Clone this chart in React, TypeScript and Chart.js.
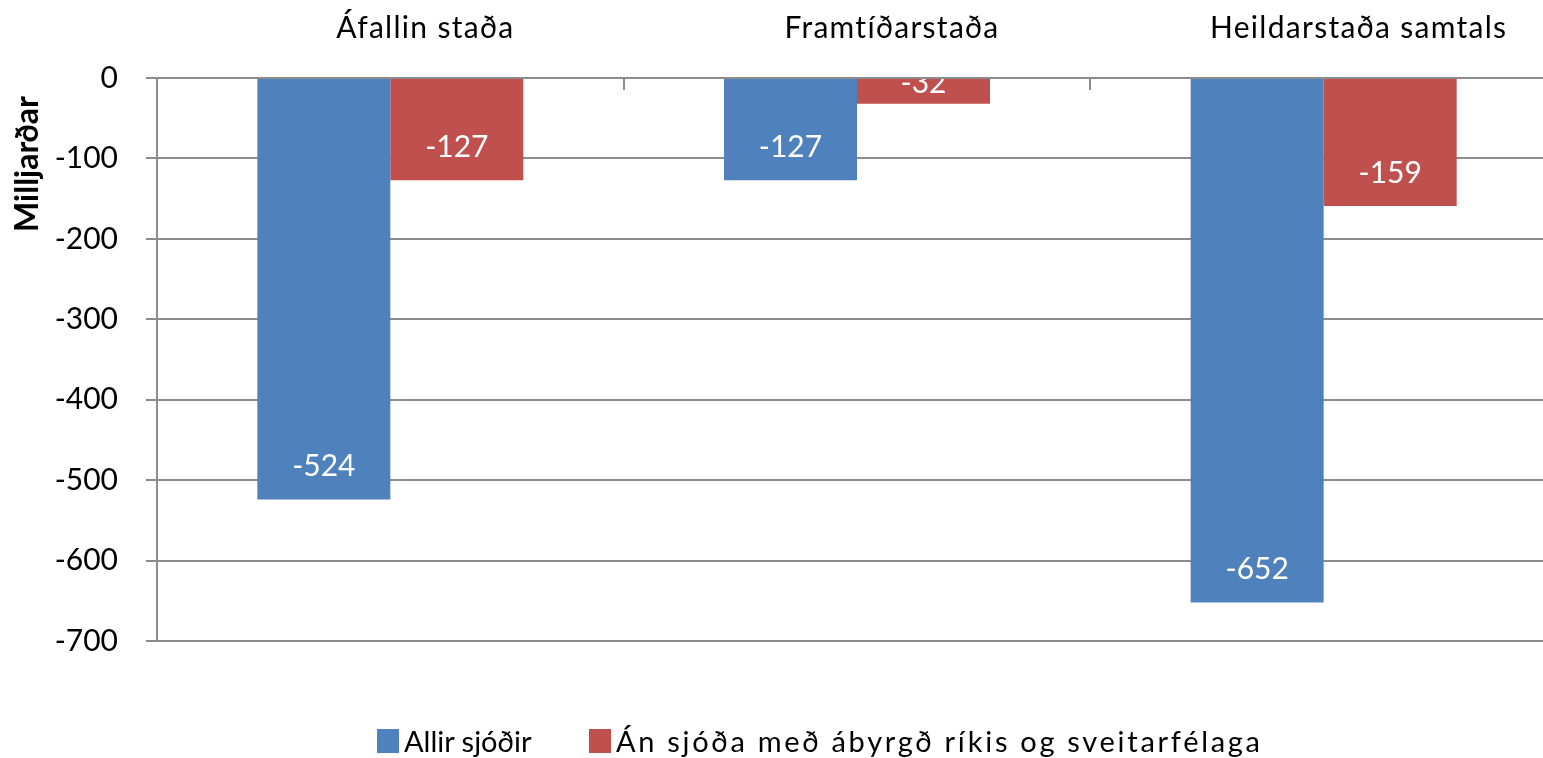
import React, { useEffect, useRef } from "react";
import { Chart, registerables } from "chart.js";

Chart.register(...registerables);

const categories = ["Áfallin staða", "Framtíðarstaða", "Heildarstaða samtals"];
const seriesNames = ["Allir sjóðir", "Án sjóða með ábyrgð ríkis og sveitarfélaga"];
const allirSjodir = [-524, -127, -652];
const anSjoda = [-127, -32, -159];
const seriesColors = ["#4F81BD", "#C0504D"];
const yTitle = "Milljarðar";
const yMin = -700;
const yMax = 0;
const yStep = 100;

const FONT = "Lato, 'Open Sans', sans-serif";
const GRID = "#8c8c8c";

const extrasPlugin = {
  id: "extras",
  afterDatasetsDraw(chart: any) {
    const { ctx, chartArea } = chart;
    ctx.save();
    ctx.beginPath();
    ctx.rect(chartArea.left, chartArea.top + 1, chartArea.right - chartArea.left, chartArea.bottom - chartArea.top);
    ctx.clip();
    ctx.fillStyle = "#ffffff";
    ctx.font = `30px ${FONT}`;
    ctx.textAlign = "center";
    ctx.textBaseline = "middle";
    chart.data.datasets.forEach((ds: any, di: number) => {
      const meta = chart.getDatasetMeta(di);
      meta.data.forEach((bar: any, i: number) => {
        const len = Math.abs(bar.y - bar.base);
        const off = Math.min(33, len - 4);
        ctx.fillText(String(ds.data[i]), bar.x, bar.y - off);
      });
    });
    ctx.restore();
  },
  afterDraw(chart: any) {
    const { ctx, chartArea, scales } = chart;
    const x = scales.x;
    ctx.save();
    ctx.strokeStyle = GRID;
    ctx.lineWidth = 2;
    const n = chart.data.labels.length;
    for (let i = 0; i < n; i++) {
      const p = x.getPixelForValue(i);
      const q = i + 1 < n ? x.getPixelForValue(i + 1) : p + (p - x.getPixelForValue(i - 1));
      const b = Math.round((p + q) / 2);
      ctx.beginPath();
      ctx.moveTo(b, chartArea.top);
      ctx.lineTo(b, chartArea.top + 12);
      ctx.stroke();
    }
    ctx.fillStyle = "#000";
    ctx.font = `bold 32px ${FONT}`;
    ctx.textAlign = "center";
    ctx.textBaseline = "middle";
    ctx.translate(28, 164);
    ctx.rotate(-Math.PI / 2);
    ctx.fillText(yTitle, 0, 0);
    ctx.restore();
  },
};

export default function App() {
  const ref = useRef<HTMLCanvasElement>(null);
  useEffect(() => {
    document.body.style.margin = "0";
    document.body.style.overflow = "hidden";
    const chart = new Chart(ref.current as HTMLCanvasElement, {
      type: "bar",
      data: {
        labels: categories,
        datasets: [
          { label: seriesNames[0], data: allirSjodir, backgroundColor: seriesColors[0], borderWidth: 0 },
          { label: seriesNames[1], data: anSjoda, backgroundColor: seriesColors[1], borderWidth: 0 },
        ],
      },
      options: {
        responsive: false,
        animation: false,
        layout: { padding: { left: 0, top: 0, right: 3, bottom: 117 } },
        datasets: { bar: { categoryPercentage: 0.57, barPercentage: 1 } },
        plugins: { legend: { display: false }, tooltip: { enabled: false } },
        scales: {
          x: {
            position: "top",
            offset: true,
            grid: { display: false },
            border: { display: false },
            ticks: {
              font: { family: FONT, size: 30 },
              color: "#000",
              padding: 24,
              labelOffset: 35,
              maxRotation: 0,
              autoSkip: false,
            },
            afterFit: (s: any) => {
              s.height = 78;
            },
            afterUpdate: (s: any) => {
              if (!s.__patched) {
                const orig = s.drawLabels.bind(s);
                s.drawLabels = (area: any) => {
                  s.ctx.save();
                  s.ctx.letterSpacing = "1.3px";
                  orig(area);
                  s.ctx.restore();
                };
                s.__patched = true;
              }
            },
          },
          y: {
            min: yMin,
            max: yMax,
            grid: { color: GRID, lineWidth: 2, tickLength: 11, drawTicks: true },
            border: { display: true, color: GRID, width: 2 },
            ticks: {
              stepSize: yStep,
              font: { family: FONT, size: 30 },
              color: "#000",
              padding: 28,
            },
            afterFit: (s: any) => {
              s.width = 157;
            },
          },
        },
      },
      plugins: [extrasPlugin],
    });
    return () => chart.destroy();
  }, []);

  const legendText: React.CSSProperties = {
    position: "absolute",
    top: 725,
    fontFamily: FONT,
    fontSize: 29,
    lineHeight: "32px",
    color: "#000",
    whiteSpace: "nowrap",
  };
  const box = (left: number, color: string): React.CSSProperties => ({
    position: "absolute",
    left,
    top: 729,
    width: 22,
    height: 24,
    background: color,
  });

  return (
    <div style={{ position: "fixed", left: 0, top: 0, width: 1543, height: 758, overflow: "hidden", background: "#fff" }}>
      <div style={{ position: "absolute", left: 0, top: 0, width: 1560, height: 758 }}>
        <canvas ref={ref} width={1560} height={758} style={{ display: "block" }} />
        <div style={box(377, seriesColors[0])} />
        <div style={{ ...legendText, left: 404 }}>{seriesNames[0]}</div>
        <div style={box(589, seriesColors[1])} />
        <div style={{ ...legendText, left: 616, letterSpacing: "2.7px" }}>{seriesNames[1]}</div>
      </div>
    </div>
  );
}
